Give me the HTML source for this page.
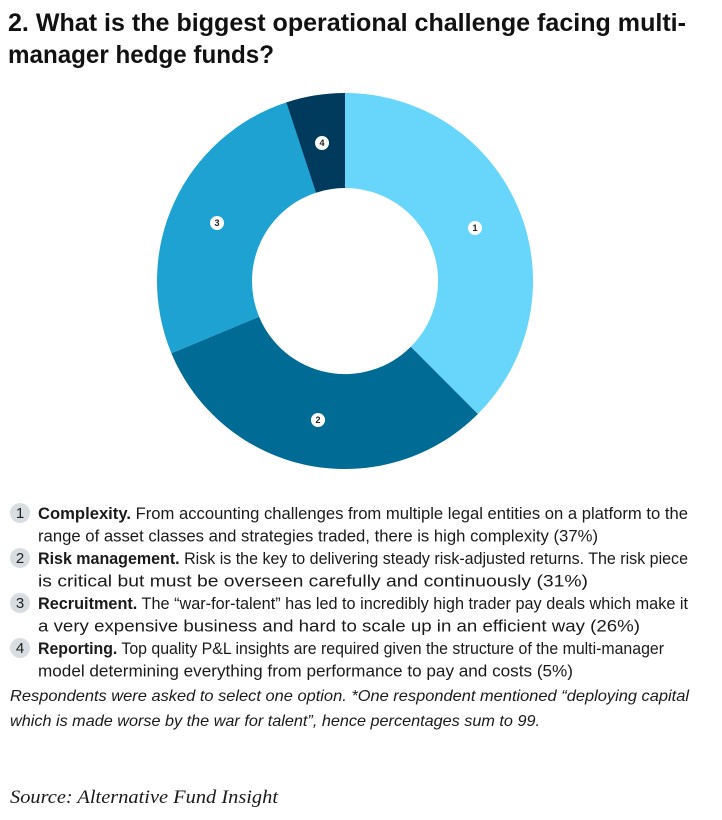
<!DOCTYPE html>
<html><head><meta charset="utf-8"><style>
html,body{margin:0;padding:0;background:#fff;}
svg{display:block;}
.t{font-family:"Liberation Sans",sans-serif;font-weight:bold;font-size:25px;fill:#111;}
.l{font-family:"Liberation Sans",sans-serif;font-size:16.5px;fill:#1a1a1a;}
.b{font-weight:bold;}
.n{font-family:"Liberation Sans",sans-serif;font-size:15px;fill:#222;text-anchor:middle;}
.i{font-family:"Liberation Sans",sans-serif;font-style:italic;font-size:16px;fill:#1a1a1a;}
.s{font-family:"Liberation Serif",serif;font-style:italic;font-size:19px;fill:#1a1a1a;}
.d{font-family:"Liberation Sans",sans-serif;font-weight:bold;font-size:9px;fill:#222;text-anchor:middle;}
</style></head><body>
<svg width="722" height="820" viewBox="0 0 722 820" xmlns="http://www.w3.org/2000/svg">
<text class="t" x="8" y="31" textLength="678" lengthAdjust="spacingAndGlyphs">2. What is the biggest operational challenge facing multi-</text>
<text class="t" x="8" y="63" textLength="266" lengthAdjust="spacingAndGlyphs">manager hedge funds?</text>

<g transform="translate(345,281)">
<path d="M0,-188 A188,188 0 0 1 132.9,133.0 L65.8,65.8 A93,93 0 0 0 0,-93 Z" fill="#68d6fb"/>
<path d="M132.9,133.0 A188,188 0 0 1 -173.6,72.2 L-85.9,35.7 A93,93 0 0 0 65.8,65.8 Z" fill="#006c96"/>
<path d="M-173.6,72.2 A188,188 0 0 1 -58.7,-178.6 L-29.0,-88.3 A93,93 0 0 0 -85.9,35.7 Z" fill="#1ea2d2"/>
<path d="M-58.7,-178.6 A188,188 0 0 1 0,-188 L0,-93 A93,93 0 0 0 -29.0,-88.3 Z" fill="#003b5e"/>
</g>
<g>
<circle cx="475" cy="228" r="7" fill="#fff"/><text class="d" x="475" y="231">1</text>
<circle cx="318" cy="420" r="7" fill="#fff"/><text class="d" x="318" y="423">2</text>
<circle cx="217" cy="223" r="7" fill="#fff"/><text class="d" x="217" y="226">3</text>
<circle cx="322" cy="143" r="7" fill="#fff"/><text class="d" x="322" y="146">4</text>
</g>

<g fill="#d8dde1">
<circle cx="20" cy="513" r="10"/><circle cx="20" cy="558" r="10"/><circle cx="20" cy="603" r="10"/><circle cx="20" cy="648" r="10"/>
</g>
<text class="n" x="20" y="518">1</text>
<text class="n" x="20" y="563">2</text>
<text class="n" x="20" y="608">3</text>
<text class="n" x="20" y="653">4</text>

<text class="l" x="38" y="519" textLength="650" lengthAdjust="spacingAndGlyphs"><tspan class="b">Complexity.</tspan> From accounting challenges from multiple legal entities on a platform to the</text>
<text class="l" x="38" y="541.5" textLength="560" lengthAdjust="spacingAndGlyphs">range of asset classes and strategies traded, there is high complexity (37%)</text>
<text class="l" x="38" y="564" textLength="650" lengthAdjust="spacingAndGlyphs"><tspan class="b">Risk management.</tspan> Risk is the key to delivering steady risk-adjusted returns. The risk piece</text>
<text class="l" x="38" y="586.5" textLength="550" lengthAdjust="spacingAndGlyphs">is critical but must be overseen carefully and continuously (31%)</text>
<text class="l" x="38" y="609" textLength="650" lengthAdjust="spacingAndGlyphs"><tspan class="b">Recruitment.</tspan> The “war-for-talent” has led to incredibly high trader pay deals which make it</text>
<text class="l" x="38" y="631.5" textLength="602" lengthAdjust="spacingAndGlyphs">a very expensive business and hard to scale up in an efficient way (26%)</text>
<text class="l" x="38" y="654" textLength="626" lengthAdjust="spacingAndGlyphs"><tspan class="b">Reporting.</tspan> Top quality P&amp;L insights are required given the structure of the multi-manager</text>
<text class="l" x="38" y="676.5" textLength="535" lengthAdjust="spacingAndGlyphs">model determining everything from performance to pay and costs (5%)</text>

<text class="i" x="10" y="701" textLength="679" lengthAdjust="spacingAndGlyphs">Respondents were asked to select one option. *One respondent mentioned “deploying capital</text>
<text class="i" x="10" y="726" textLength="530" lengthAdjust="spacingAndGlyphs">which is made worse by the war for talent”, hence percentages sum to 99.</text>
<text class="s" x="10" y="803" textLength="268" lengthAdjust="spacingAndGlyphs">Source: Alternative Fund Insight</text>
</svg>
</body></html>
